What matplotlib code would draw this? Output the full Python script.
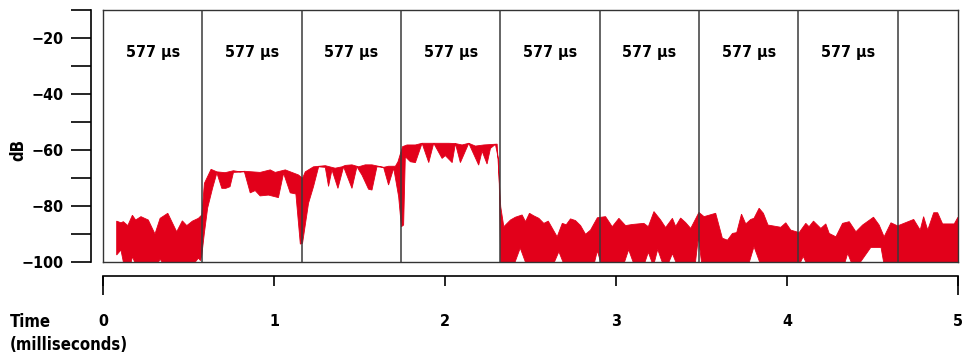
import numpy as np
import matplotlib
matplotlib.use('Agg')
import matplotlib.pyplot as plt

plt.rcParams['font.family'] = ['DejaVu Sans']
plt.rcParams['font.stretch'] = 'condensed'
plt.rcParams['font.weight'] = 'bold'

RED = '#e2001a'

# upper edge of the signal band (time in ms, level in dB)
up_t = [0.080, 0.105, 0.119, 0.145, 0.172, 0.191, 0.222, 0.265, 0.304, 0.334,
        0.379, 0.431, 0.464, 0.490, 0.523, 0.558, 0.578, 0.593, 0.632, 0.666,
        0.714, 0.763, 0.802, 0.827, 0.919, 0.978, 1.007, 1.066, 1.143, 1.167,
        1.183, 1.231, 1.300, 1.358, 1.398, 1.417, 1.456, 1.495, 1.534, 1.573,
        1.641, 1.670, 1.710, 1.725, 1.752, 1.778, 1.827, 1.866, 1.934, 2.022,
        2.061, 2.100, 2.139, 2.178, 2.227, 2.305, 2.326, 2.344, 2.383, 2.412,
        2.451, 2.471, 2.494, 2.519, 2.549, 2.578, 2.604, 2.656, 2.686, 2.709,
        2.734, 2.763, 2.793, 2.822, 2.851, 2.891, 2.939, 2.978, 3.017, 3.056,
        3.095, 3.163, 3.189, 3.222, 3.261, 3.290, 3.330, 3.349, 3.378, 3.407,
        3.437, 3.485, 3.515, 3.583, 3.622, 3.652, 3.681, 3.706, 3.734, 3.759,
        3.788, 3.807, 3.837, 3.862, 3.889, 3.964, 3.993, 4.022, 4.071, 4.110,
        4.129, 4.155, 4.198, 4.227, 4.247, 4.286, 4.325, 4.364, 4.403, 4.442,
        4.506, 4.539, 4.568, 4.608, 4.647, 4.741, 4.779, 4.799, 4.823, 4.858,
        4.881, 4.910, 4.978, 5.000]
up_db = [-85.4, -86.0, -85.6, -87.0, -83.3, -85.0, -83.8, -85.0, -90.0, -84.4,
         -82.6, -89.2, -85.3, -87.0, -85.4, -84.4, -83.2, -71.9, -66.9, -67.8,
         -68.1, -67.4, -67.8, -67.6, -68.0, -67.1, -68.0, -67.1, -68.9, -70.1,
         -67.8, -66.0, -65.6, -66.5, -66.0, -65.5, -65.3, -66.0, -65.3, -65.3,
         -66.2, -65.8, -65.8, -64.2, -58.8, -58.2, -58.2, -57.6, -57.6, -57.6,
         -57.7, -58.2, -57.6, -58.6, -58.2, -57.9, -80.3, -87.4, -85.0, -84.0,
         -83.2, -85.6, -82.6, -83.5, -84.4, -86.2, -85.4, -91.0, -86.2, -86.7,
         -84.6, -85.2, -87.0, -90.1, -88.6, -84.2, -83.8, -87.4, -84.4, -87.0,
         -86.6, -86.2, -87.4, -82.0, -85.0, -87.7, -84.4, -87.3, -84.3, -85.9,
         -88.0, -82.3, -83.8, -82.6, -91.5, -92.2, -89.8, -89.5, -82.9, -86.4,
         -84.8, -84.4, -80.8, -82.6, -86.8, -87.6, -86.0, -88.6, -89.5, -86.2,
         -87.4, -85.4, -88.0, -86.4, -89.8, -91.0, -86.2, -85.6, -89.2, -86.8,
         -84.0, -86.8, -91.0, -86.0, -87.1, -84.8, -88.6, -83.8, -88.6, -82.4,
         -82.4, -86.4, -86.4, -84.0]

# lower edge of the signal band
lo_t = [0.080, 0.105, 0.119, 0.165, 0.172, 0.185, 0.325, 0.334, 0.345, 0.540,
        0.558, 0.570, 0.578, 0.593, 0.612, 0.641, 0.666, 0.695, 0.718, 0.743,
        0.763, 0.827, 0.861, 0.890, 0.919, 0.968, 1.026, 1.056, 1.095, 1.128,
        1.154, 1.167, 1.202, 1.231, 1.261, 1.300, 1.319, 1.339, 1.374, 1.407,
        1.456, 1.485, 1.515, 1.553, 1.573, 1.602, 1.641, 1.670, 1.700, 1.729,
        1.745, 1.758, 1.768, 1.798, 1.827, 1.866, 1.905, 1.934, 1.983, 2.002,
        2.042, 2.061, 2.090, 2.139, 2.197, 2.217, 2.246, 2.266, 2.295, 2.315,
        2.326, 2.410, 2.440, 2.470, 2.640, 2.666, 2.690, 2.875, 2.891, 2.910,
        3.050, 3.074, 3.100, 3.170, 3.189, 3.210, 3.225, 3.244, 3.270, 3.310,
        3.330, 3.350, 3.465, 3.482, 3.500, 3.780, 3.807, 3.840, 4.080, 4.095,
        4.110, 4.340, 4.355, 4.375, 4.430, 4.490, 4.550, 4.565, 5.000]
lo_db = [-97.5, -95.7, -100.0, -100.0, -98.1, -100.0, -100.0, -99.0, -100.0, -100.0,
         -98.6, -99.5, -97.5, -89.6, -80.7, -73.6, -68.2, -73.7, -73.7, -73.1,
         -68.0, -67.8, -75.3, -74.5, -76.4, -76.1, -77.0, -68.3, -75.3, -75.7,
         -93.6, -93.3, -79.0, -73.1, -66.0, -66.2, -73.0, -67.1, -73.7, -66.0,
         -73.7, -66.0, -69.0, -74.0, -74.3, -66.0, -66.2, -72.5, -66.5, -76.7,
         -87.4, -86.8, -62.4, -64.2, -64.5, -57.6, -64.5, -57.6, -63.0, -62.0,
         -64.5, -57.7, -64.5, -57.6, -65.4, -60.4, -65.0, -59.4, -58.0, -64.0,
         -100.0, -100.0, -95.0, -100.0, -100.0, -96.3, -100.0, -100.0, -96.0, -100.0,
         -100.0, -95.6, -100.0, -100.0, -96.5, -100.0, -100.0, -95.5, -100.0, -100.0,
         -97.0, -100.0, -100.0, -91.0, -100.0, -100.0, -94.5, -100.0, -100.0, -98.0,
         -100.0, -100.0, -96.9, -100.0, -100.0, -94.8, -94.8, -100.0, -100.0]

slot_ms = 0.581          # measured spacing of the slot lines
n_slots = 8
slot_label = '577 µs'

y_major = [-100, -80, -60, -40, -20]
y_minor = [-90, -70, -50, -30, -10]
x_ticks = [0, 1, 2, 3, 4, 5]

W, H = 973, 356
fig = plt.figure(figsize=(W / 100, H / 100), dpi=100)
ax = fig.add_axes([103 / W, 94 / H, 855 / W, 252 / H])

poly_t = np.r_[up_t, lo_t[::-1]]
poly_db = np.r_[up_db, lo_db[::-1]]
ax.fill(poly_t, poly_db, color=RED, lw=0.6, ec=RED, zorder=2)

for k in range(1, n_slots + 1):
    ax.axvline(k * slot_ms, color='#3a3a3a', lw=1.1, zorder=3)
for k in range(n_slots):
    ax.text((k + 0.5) * slot_ms, -25, slot_label, ha='center', va='center',
            fontsize=11.5, fontweight='bold')

ax.set_xlim(0, 5)
ax.set_ylim(-100, -10)
ax.set_xticks([])
ax.set_yticks([])
for s in ax.spines.values():
    s.set_color('#333333')
    s.set_linewidth(1.0)

# detached y axis on the left
sy = ax.secondary_yaxis(-12 / 855)
sy.set_yticks(y_major)
sy.set_yticks(y_minor, minor=True)
sy.set_yticklabels(['\u2212%d' % abs(v) for v in y_major])
sy.tick_params(which='both', length=14.5, width=1.2, pad=5, labelsize=11.5)
sy.spines['left'].set_linewidth(1.2)
for lab in sy.get_yticklabels():
    lab.set_fontweight('bold')

fig.text(18 / W, 1 - 150 / H, 'dB', rotation=90, ha='center', va='center',
         fontsize=12, fontweight='bold')

# detached x axis below
sx = ax.secondary_xaxis(-14 / 252)
sx.xaxis.remove_overlapping_locs = False
sx.set_xticks(x_ticks)
sx.set_xticks([x_ticks[0], x_ticks[-1]], minor=True)
sx.set_xticklabels([str(v) for v in x_ticks])
sx.tick_params(which='major', length=7.5, width=1.2, pad=20, labelsize=11.5)
sx.tick_params(which='minor', length=14, width=1.2)
sx.spines['bottom'].set_linewidth(1.2)
for lab in sx.get_xticklabels():
    lab.set_fontweight('bold')

fig.text(10 / W, 1 - 322 / H, 'Time', ha='left', va='center',
         fontsize=12, fontweight='bold')
fig.text(10 / W, 1 - 345 / H, '(milliseconds)', ha='left', va='center',
         fontsize=12, fontweight='bold')

fig.savefig('out.png', dpi=100)
